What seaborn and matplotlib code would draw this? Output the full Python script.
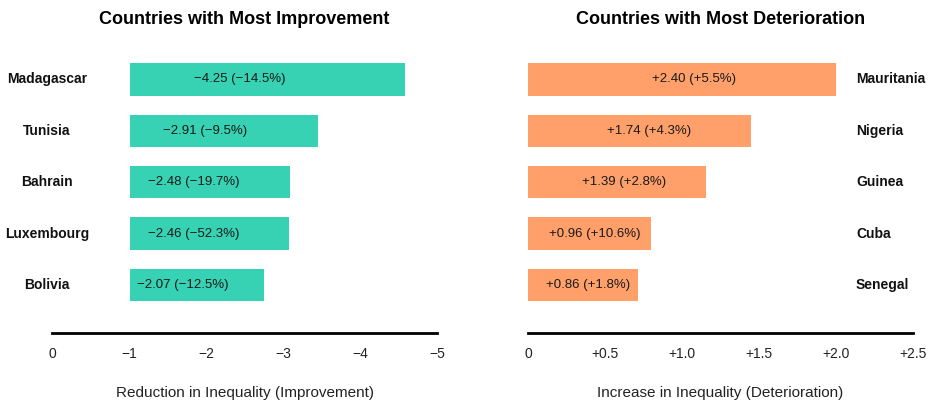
import numpy as np
import pandas as pd
import matplotlib
matplotlib.use("Agg")
import matplotlib.pyplot as plt
import matplotlib.transforms as mtransforms
import seaborn as sns

# ---- data ----
improve_countries = ["Madagascar", "Tunisia", "Bahrain", "Luxembourg", "Bolivia"]
improve_values = [-4.25, -2.91, -2.48, -2.46, -2.07]
improve_pct = [-14.5, -9.5, -19.7, -52.3, -12.5]

deter_countries = ["Mauritania", "Nigeria", "Guinea", "Cuba", "Senegal"]
deter_values = [2.40, 1.74, 1.39, 0.96, 0.86]
deter_pct = [5.5, 4.3, 2.8, 10.6, 1.8]

left_ticklabels = ["0", "\u22121", "\u22122", "\u22123", "\u22124", "\u22125"]
right_ticklabels = ["0", "+0.5", "+1.0", "+1.5", "+2.0", "+2.5"]

TEAL = "#37D2B3"
ORANGE = "#FF9F6A"

sns.set_theme(style="white")
plt.rcParams["font.family"] = ["Liberation Sans", "DejaVu Sans"]

fig = plt.figure(figsize=(9.34, 4.01), dpi=100)
W, H = 934, 401
ax_l = fig.add_axes([52 / W, (H - 333.3) / H, 385 / W, 299.3 / H])
ax_r = fig.add_axes([528 / W, (H - 333.3) / H, 385 / W, 299.3 / H])

df_l = pd.DataFrame({"country": improve_countries, "value": improve_values})
df_r = pd.DataFrame({"country": deter_countries, "value": deter_values})

sns.barplot(data=df_l, x="value", y="country", ax=ax_l, color=TEAL,
            orient="h", width=0.63, saturation=1, linewidth=0)
sns.barplot(data=df_r, x="value", y="country", ax=ax_r, color=ORANGE,
            orient="h", width=0.63, saturation=1, linewidth=0)

def fmt(v):
    s = f"{v:+.2f}"
    return s.replace("-", "\u2212")

def fmtp(p):
    s = f"{p:+.1f}%"
    return s.replace("-", "\u2212")

for ax, countries, vals, pcts, frac in [
    (ax_l, improve_countries, improve_values, improve_pct, 0.40),
    (ax_r, deter_countries, deter_values, deter_pct, 0.54),
]:
    for i, (v, p) in enumerate(zip(vals, pcts)):
        ax.text(v * frac, i, f"{fmt(v)} ({fmtp(p)})", ha="center", va="center",
                fontsize=9.5, color="#1a1a1a")

# limits
ax_l.set_xlim(1.2, -4.75)
ax_r.set_xlim(0, 3.0)
for ax in (ax_l, ax_r):
    ax.set_ylim(4.94, -0.885)
    ax.set_yticks([])
    ax.set_ylabel("")
    for s in ("top", "right", "left"):
        ax.spines[s].set_visible(False)
    ax.spines["bottom"].set_linewidth(2.0)
    ax.spines["bottom"].set_color("black")
    ax.tick_params(axis="x", length=0, pad=10, labelsize=10, colors="#222222")

ax_l.set_xticks(np.linspace(1.2, -4.75, 6))
ax_l.set_xticklabels(left_ticklabels)
ax_r.set_xticks(np.linspace(0, 3.0, 6))
ax_r.set_xticklabels(right_ticklabels)

ax_l.set_xlabel("Reduction in Inequality (Improvement)", fontsize=11, labelpad=18, color="#222222")
ax_r.set_xlabel("Increase in Inequality (Deterioration)", fontsize=11, labelpad=18, color="#222222")

ax_l.set_title("Countries with Most Improvement", fontsize=13, fontweight="bold", pad=7, color="black")
ax_r.set_title("Countries with Most Deterioration", fontsize=13, fontweight="bold", pad=7, color="black")

# category labels
tl = mtransforms.blended_transform_factory(ax_l.transAxes, ax_l.transData)
for i, c in enumerate(improve_countries):
    ax_l.text(-5 / 385, i, c, transform=tl, ha="center", va="center",
              fontsize=10, fontweight="bold", color="#111111")
tr = mtransforms.blended_transform_factory(ax_r.transAxes, ax_r.transData)
for i, c in enumerate(deter_countries):
    ax_r.text((856 - 528) / 385, i, c, transform=tr, ha="left", va="center",
              fontsize=10, fontweight="bold", color="#111111")

fig.savefig("out.png", dpi=100)
